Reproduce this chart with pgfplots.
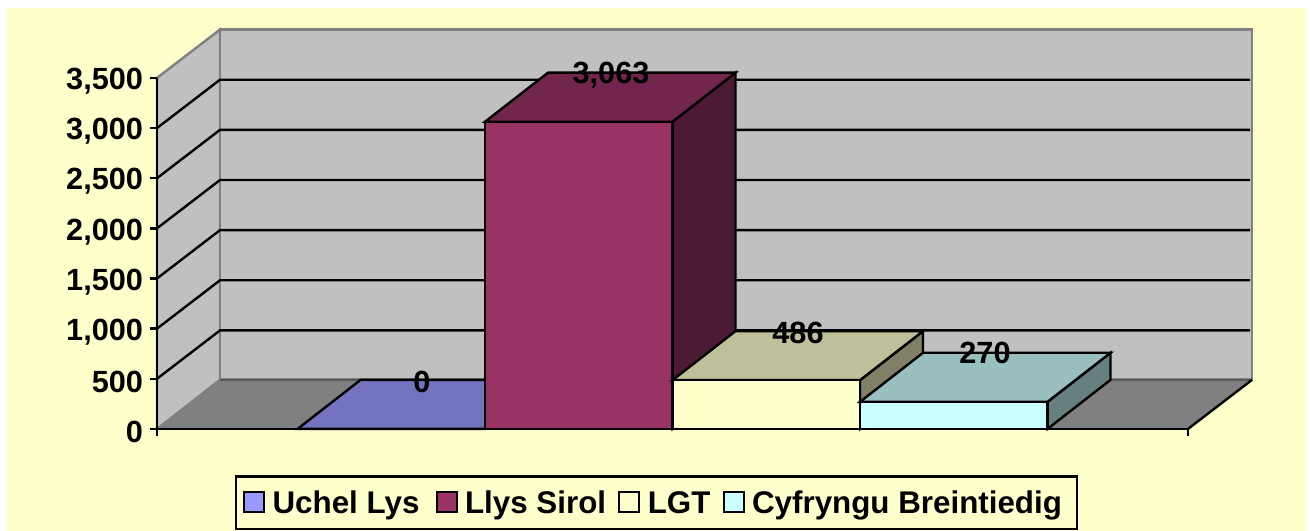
\documentclass[border=0pt]{standalone}
\usepackage{pgfplots}
\pgfplotsset{compat=1.18}
\usepackage{fontspec}
\setmainfont{Liberation Sans}
\definecolor{bg}{HTML}{FFFFCC}
\definecolor{wall}{HTML}{C0C0C0}
\definecolor{flr}{HTML}{808080}
\definecolor{aF}{HTML}{9999FF}\definecolor{aT}{HTML}{7373BF}
\definecolor{bF}{HTML}{993366}\definecolor{bT}{HTML}{73264D}\definecolor{bS}{HTML}{4D1A33}
\definecolor{cF}{HTML}{FFFFCC}\definecolor{cT}{HTML}{BFBF99}\definecolor{cS}{HTML}{808066}
\definecolor{dF}{HTML}{CCFFFF}\definecolor{dT}{HTML}{99BFBF}\definecolor{dS}{HTML}{668080}
\begin{document}
\begin{tikzpicture}
\begin{axis}[
  scale only axis, width=773.25pt, height=263.25pt,
  xmin=157, xmax=1188, ymin=0, ymax=3500,
  clip=false, axis on top,
  axis y line*=left, axis x line*=bottom,
  axis line style={-, line width=1.8pt},
  tick style={black, line width=1.8pt},
  tick align=outside, major tick length=5pt,
  xtick={157,1188}, xticklabels={},
  ytick={0,500,1000,1500,2000,2500,3000,3500},
  /pgf/number format/.cd, 1000 sep={,}, assume math mode=true,
  /pgfplots/.cd,
  yticklabel style={font=\fontsize{23}{25}\selectfont\bfseries, yshift=-2.5pt, xshift=-2pt},
  legend columns=4,
  legend style={at={(axis cs:234.7,-738)}, anchor=west, fill=bg, draw=black, line width=1.8pt,
    font=\fontsize{23.5}{25}\selectfont\bfseries, inner xsep=5.5pt, inner ysep=8.5pt,
    /tikz/every odd column/.append style={column sep=3.5pt},
    /tikz/column 2/.style={column sep=10.25pt},
    /tikz/column 4/.style={column sep=7.25pt},
    /tikz/column 6/.style={column sep=7.25pt}},
  legend image code/.code={\draw[#1, line width=1.5pt] (0pt,-7pt) rectangle (15pt,8pt);},
]
% page and chart area
\addplot[fill=white, draw=none, forget plot] coordinates {(0,-1017)(1310,-1017)(1310,4277)(0,4277)} --cycle;
\addplot[fill=bg, draw=none, forget plot] coordinates {(7,-1017)(1306,-1017)(1306,4197)(7,4197)} --cycle;
% walls and floor
\addplot[fill=wall, draw=flr, line width=1.8pt, forget plot] coordinates {(157,0)(220,489)(220,3982)(157,3500)} --cycle;
\addplot[fill=wall, draw=flr, line width=2.2pt, forget plot] coordinates {(220,489)(1252,489)(1252,3982)(220,3982)} --cycle;
\addplot[fill=flr, draw=none, forget plot] coordinates {(157,0)(1188,0)(1252,489)(220,489)} --cycle;
\addplot[draw=black!65, line width=1.2pt, forget plot] coordinates {(220,489)(1252,489)};
\addplot[draw=black, line width=1.8pt, forget plot] coordinates {(1188,0)(1252,489)};
% gridlines
\addplot[black, line width=1.8pt, forget plot] coordinates {(157,500)(220,982)(1250,982)};
\addplot[black, line width=1.8pt, forget plot] coordinates {(157,1000)(220,1482)(1250,1482)};
\addplot[black, line width=1.8pt, forget plot] coordinates {(157,1500)(220,1982)(1250,1982)};
\addplot[black, line width=1.8pt, forget plot] coordinates {(157,2000)(220,2482)(1250,2482)};
\addplot[black, line width=1.8pt, forget plot] coordinates {(157,2500)(220,2982)(1250,2982)};
\addplot[black, line width=1.8pt, forget plot] coordinates {(157,3000)(220,3482)(1250,3482)};
% Uchel Lys, 0
\addplot[fill=aT, draw=black, line width=1.8pt, forget plot] coordinates {(297.6,0)(485,0)(548,489)(360.6,489)} --cycle;
\addplot[fill=aF, draw=black, line width=1.8pt] coordinates {(297.6,0)(485,0)};
\addlegendentry{Uchel Lys}
% Llys Sirol, 3063
\addplot[fill=bS, draw=black, line width=1.8pt, forget plot] coordinates {(672.5,0)(735.5,489)(735.5,3552)(672.5,3063)} --cycle;
\addplot[fill=bT, draw=black, line width=1.8pt, forget plot] coordinates {(485,3063)(672.5,3063)(735.5,3552)(548,3552)} --cycle;
\addplot[fill=bF, draw=black, line width=1.8pt] coordinates {(485,0)(672.5,0)(672.5,3063)(485,3063)} --cycle;
\addlegendentry{Llys Sirol}
% LGT, 486
\addplot[fill=cS, draw=black, line width=1.8pt, forget plot] coordinates {(860,0)(923,489)(923,975)(860,486)} --cycle;
\addplot[fill=cT, draw=black, line width=1.8pt, forget plot] coordinates {(672.5,486)(860,486)(923,975)(735.5,975)} --cycle;
\addplot[fill=cF, draw=black, line width=1.8pt] coordinates {(672.5,0)(860,0)(860,486)(672.5,486)} --cycle;
\addlegendentry{LGT\vphantom{Uly}}
% Cyfryngu Breintiedig, 270
\addplot[fill=dS, draw=black, line width=1.8pt, forget plot] coordinates {(1047.5,0)(1110.5,489)(1110.5,759)(1047.5,270)} --cycle;
\addplot[fill=dT, draw=black, line width=1.8pt, forget plot] coordinates {(860,270)(1047.5,270)(1110.5,759)(923,759)} --cycle;
\addplot[fill=dF, draw=black, line width=1.8pt] coordinates {(860,0)(1047.5,0)(1047.5,270)(860,270)} --cycle;
\addlegendentry{Cyfryngu Breintiedig\rule{3.75pt}{0pt}}
% value labels
\addplot[draw=none, forget plot, point meta=explicit symbolic,
  nodes near coords,
  nodes near coords style={anchor=center, yshift=-1.5pt, font=\fontsize{23}{25}\selectfont\bfseries, text=black, inner sep=0pt}]
  table[x=x, y=y, meta=label] {
x y label
422 489 0
611 3552 3,063
798 975 486
985 775 270
};
\end{axis}
\end{tikzpicture}
\end{document}
